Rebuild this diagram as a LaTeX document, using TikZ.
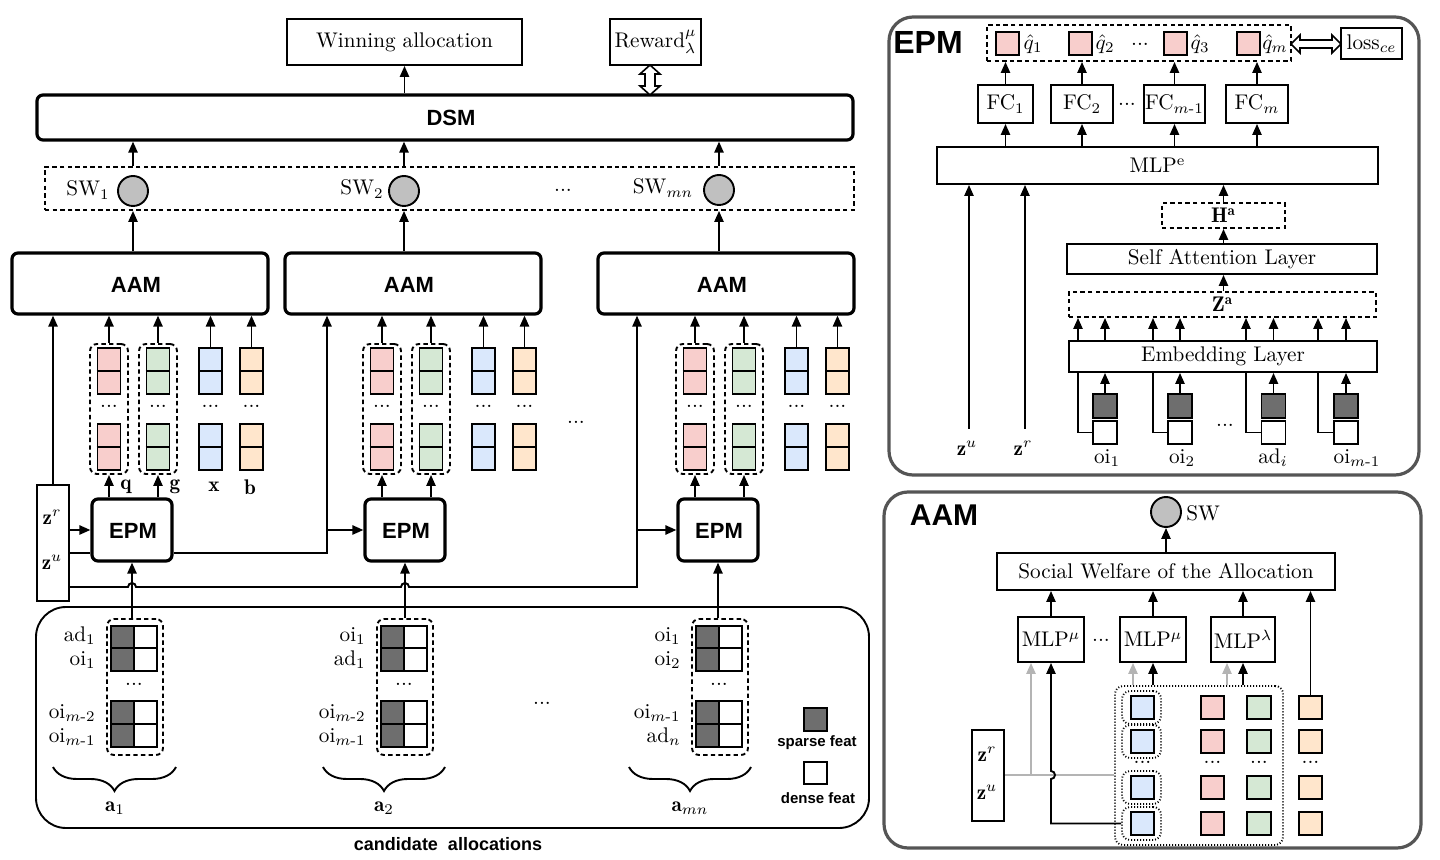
\RequirePackage{fix-cm}
\documentclass[tikz,border=0pt]{standalone}
\usepackage{amsmath}
\usepackage{fontspec}
\usetikzlibrary{arrows.meta,fit,decorations.pathreplacing,calc}
\newfontfamily\hv{Liberation Sans}
\definecolor{cpink}{HTML}{F8CECC}
\definecolor{cgreen}{HTML}{D5E8D4}
\definecolor{cblue}{HTML}{DAE8FC}
\definecolor{corange}{HTML}{FFE6CC}
\definecolor{csparse}{HTML}{6E6E6E}
\definecolor{ccirc}{HTML}{C0C0C0}
\definecolor{cpanel}{HTML}{555555}
\definecolor{cgl}{HTML}{B4B4B4}
\newcommand{\mkbox}[7][]{%
  \path (#3,#4) coordinate (#2-a) (#5,#6) coordinate (#2-b);%
  \node[fit=(#2-a)(#2-b), inner sep=0pt, #1] (#2) {};%
  \node (#2-t) at (#2.center) {#7};}
\newcommand{\mmone}{m\text{-}1}
\newcommand{\mmtwo}{m\text{-}2}
\tikzset{
  ln/.style={line width=0.95pt},
  arr/.style={line width=0.95pt, -{Triangle[length=5.5pt,width=4.6pt]}},
  garr/.style={arr, color=cgl},
  bx/.style={draw, line width=0.95pt, fill=white},
  tbx/.style={draw, line width=1.6pt, rounded corners=3pt, fill=white},
  dbx/.style={draw, line width=0.95pt, dash pattern=on 2.2pt off 1.6pt},
  rdbx/.style={dbx, rounded corners=3.5pt},
  dotbx/.style={draw, line width=0.95pt, dash pattern=on 0.5pt off 1pt, rounded corners=4pt},
  circ/.style={circle, draw, line width=0.95pt, fill=ccirc, minimum size=15pt},
  bsans/.style={font=\hv\bfseries\fontsize{11}{13}\selectfont},
  lsans/.style={font=\hv\bfseries\fontsize{7.5}{9}\selectfont},
  panel/.style={draw=cpanel, line width=1.6pt, rounded corners=12pt},
}
% colour column: name, centre x, colour
\newcommand{\colbar}[3]{%
  \mkbox[bx, fill=#3]{u#1}{#2-11.5}{348}{#2+11.5}{394}{}
  \draw[ln] (u#1.west) -- (u#1.east);
  \mkbox[bx, fill=#3]{w#1}{#2-11.5}{424}{#2+11.5}{470}{}
  \draw[ln] (w#1.west) -- (w#1.east);
  \node at (#2,406) {...};}
% candidate group: idx, gx, four labels, brace left, brace right
\newcommand{\cgrp}[8]{%
  \mkbox[rdbx]{cg#1}{#2-27}{619}{#2+29}{755}{}
  \foreach \yy in {626,648,701,724} {
    \draw[ln, fill=csparse] (#2-23,\yy) rectangle (#2,\yy+23);
    \draw[ln, fill=white] (#2,\yy) rectangle (#2+23,\yy+23);
  }
  \node at (#2,684) {...};
  \node[anchor=east] at (#2-38,636) {#3};
  \node[anchor=east] at (#2-38,660) {#4};
  \node[anchor=east] at (#2-38,713) {#5};
  \node[anchor=east] at (#2-38,737) {#6};
  \draw[ln, decorate, decoration={brace, amplitude=12pt}] (#8,767) -- (#7,767);}
\begin{document}
\begin{tikzpicture}[x=0.5pt, y=-0.5pt,
  every node/.style={inner sep=0pt, font=\fontsize{10.6}{12.5}\selectfont}]
\fill[white] (0,0) rectangle (1440,860);
\useasboundingbox (0,0) rectangle (1440,860);

% ---------------- top ----------------
\mkbox[bx]{win}{287}{19}{522}{65}{Winning allocation}
\mkbox[bx]{rew}{610}{19}{701}{65}{Reward$^{\mu}_{\lambda}$}
\mkbox[tbx]{dsm}{37}{95}{853}{140}{}
\node[bsans] (dsml) at (451,118) {DSM};
\draw[arr] (dsm.north -| win) -- (win.south);
\draw[line width=0.8pt, fill=white] (650,65) -- (660,74) -- (655,74) -- (655,86) -- (660,86)
  -- (650,95) -- (640,86) -- (645,86) -- (645,74) -- (640,74) -- cycle;

\mkbox[dbx]{swbox}{45}{167}{854}{210}{}
\node[circ] (sw1) at (133,191) {};
\node[circ] (sw2) at (404,191) {};
\node[circ] (sw3) at (719,190) {};
\node (sw1l) at (88,190) {SW$_1$};
\node (sw2l) at (362,189) {SW$_2$};
\node (swdots) at (563,190) {...};
\node (sw3l) at (663,188) {SW$_{mn}$};
\foreach \k in {1,2,3} {\draw[arr] (swbox.north -| sw\k) -- (dsm.south -| sw\k);}

% ---------------- AAM / EPM columns ----------------
\foreach \dx/\gi in {0/1,273/2,586/3} {
  \mkbox[tbx]{aam\gi}{12+\dx}{253}{268+\dx}{314}{}
  \node[bsans] at (136+\dx,285) {AAM};
  \draw[arr] (aam\gi.north -| sw\gi) -- (swbox.south -| sw\gi);
  \mkbox[rdbx]{pg\gi}{90+\dx}{344}{128+\dx}{474}{}
  \mkbox[rdbx]{gg\gi}{139+\dx}{344}{177+\dx}{474}{}
  \colbar{pk\gi}{109+\dx}{cpink}
  \colbar{gr\gi}{158+\dx}{cgreen}
  \colbar{bl\gi}{210.5+\dx}{cblue}
  \colbar{or\gi}{251.5+\dx}{corange}
  \draw[arr] (pg\gi.north) -- (aam\gi.south -| pg\gi.north);
  \draw[arr] (gg\gi.north) -- (aam\gi.south -| gg\gi.north);
  \draw[arr] (ubl\gi.north) -- (aam\gi.south -| ubl\gi.north);
  \draw[arr] (uor\gi.north) -- (aam\gi.south -| uor\gi.north);
  \mkbox[tbx]{epm\gi}{92+\dx}{499}{172+\dx}{561}{}
  \node[bsans] at (133+\dx,531) {EPM};
  \draw[arr] (epm\gi.north -| pg\gi) -- (pg\gi.south);
  \draw[arr] (epm\gi.north -| gg\gi) -- (gg\gi.south);
}
\node at (126,487) {$\mathbf{q}$};
\node at (175,487) {$\mathbf{g}$};
\node at (214,487) {$\mathbf{x}$};
\node at (250,487) {$\mathbf{b}$};
\node at (576,422) {...};

% z box and its lines
\mkbox[bx]{zb}{37}{485}{69}{601}{}
\node at (52,517) {$\mathbf{z}^{r}$};
\node at (52,562) {$\mathbf{z}^{u}$};
\coordinate (la) at (327,553);
\coordinate (lb) at (637,587);
\draw[arr] (zb.north) -- (aam1.south -| zb.north);
\draw[arr] (zb.east |- epm1) -- (epm1.west);
\draw[ln] (zb.east |- la) -- (epm1.west |- la);
\draw[arr] (epm1.east |- la) -- (la) -- (aam2.south -| la);
\draw[arr] (la |- epm2) -- (epm2.west);
\draw[arr] (zb.east |- lb) -- (128,587) arc[start angle=180, end angle=0, radius=2pt]
  -- (401,587) arc[start angle=180, end angle=0, radius=2pt] -- (lb) -- (aam3.south -| lb);
\draw[arr] (lb |- epm3) -- (epm3.west);

% ---------------- candidate allocations ----------------
\mkbox[draw, ln, rounded corners=15pt]{cand}{36}{607}{869}{828}{}
\node[font=\hv\bfseries\fontsize{9}{11}\selectfont] (candl) at (448,844) {candidate\ \ allocations};
\cgrp{1}{134}{ad$_1$}{oi$_1$}{oi$_{\mmtwo}$}{oi$_{\mmone}$}{53}{176}
\cgrp{2}{404}{oi$_1$}{ad$_1$}{oi$_{\mmtwo}$}{oi$_{\mmone}$}{323}{445}
\cgrp{3}{719}{oi$_1$}{oi$_2$}{oi$_{\mmone}$}{ad$_n$}{629}{751}
\node at (115,808) {$\mathbf{a}_1$};
\node at (384,808) {$\mathbf{a}_2$};
\node at (690,808) {$\mathbf{a}_{mn}$};
\node at (542,703) {...};
\foreach \gi in {1,2,3} {\draw[arr] (epm\gi.south |- cg\gi.north) -- (epm\gi.south);}
\mkbox[bx, fill=csparse]{lsp}{804}{708}{827}{731}{}
\node[lsans] at (817,743) {sparse feat};
\mkbox[bx]{lde}{804}{762}{827}{784}{}
\node[lsans] at (818,798) {dense feat};

% ---------------- EPM panel ----------------
\mkbox[panel]{epmp}{889}{17}{1419}{475}{}
\node[font=\hv\bfseries\fontsize{16}{18}\selectfont] at (928,42) {EPM};
\mkbox[dbx]{qbox}{987}{25}{1291}{61}{}
\mkbox[bx, fill=cpink]{qs1}{996}{32}{1019}{55}{}
\mkbox[bx, fill=cpink]{qs2}{1069}{32}{1092}{55}{}
\mkbox[bx, fill=cpink]{qs3}{1164}{32}{1187}{55}{}
\mkbox[bx, fill=cpink]{qs4}{1237}{32}{1260}{55}{}
\node at (1033,44) {$\hat{q}_1$};
\node at (1105,44) {$\hat{q}_2$};
\node at (1140,44) {...};
\node at (1200,44) {$\hat{q}_3$};
\node at (1275,44) {$\hat{q}_m$};
\mkbox[bx]{loss}{1341}{28}{1402}{59}{loss$_{ce}$}
\draw[line width=0.8pt, fill=white] (1291,44) -- (1300,35) -- (1300,40) -- (1332,40) -- (1332,35)
  -- (1341,44) -- (1332,53) -- (1332,48) -- (1300,48) -- (1300,53) -- cycle;
\mkbox[bx]{fc1}{978}{85}{1033}{123}{FC$_1$}
\mkbox[bx]{fc2}{1051}{85}{1113}{123}{FC$_2$}
\mkbox[bx]{fc3}{1144}{85}{1205}{123}{FC$_{\mmone}$}
\mkbox[bx]{fc4}{1226}{85}{1288}{123}{FC$_m$}
\node at (1127,104) {...};
\mkbox[bx]{mlpe}{937}{147}{1378}{184}{MLP$^{\mathrm{e}}$}
\foreach \k in {1,2,3,4} {
  \draw[arr] (fc\k.north) -- (qbox.south -| fc\k.north);
  \draw[arr] (mlpe.north -| fc\k) -- (fc\k.south);
}
\coordinate (zue) at (969,429);
\coordinate (zre) at (1025,429);
\draw[arr] (zue) -- (mlpe.south -| zue);
\draw[arr] (zre) -- (mlpe.south -| zre);
\node at (967,448) {$\mathbf{z}^{u}$};
\node at (1023,448) {$\mathbf{z}^{r}$};
\mkbox[dbx]{ha}{1162}{203}{1285}{228}{$\mathbf{H}^{\mathbf{a}}$}
\mkbox[bx]{sa}{1067}{244}{1377}{274}{Self Attention Layer}
\mkbox[dbx]{za}{1069}{292}{1376}{317}{$\mathbf{Z}^{\mathbf{a}}$}
\mkbox[bx]{emb}{1069}{341}{1377}{372}{Embedding Layer}
\draw[arr] (ha.north) -- (mlpe.south -| ha.north);
\draw[arr] (sa.north -| ha) -- (ha.south);
\draw[arr] (za.north -| ha) -- (sa.south -| ha);
\foreach \cx/\lx/\tx/\lab/\k in {1105/1078/1107/oi$_1$/1, 1180/1153/1182/oi$_2$/2,
    1273.5/1246/1273/ad$_i$/3, 1346/1318/1357/oi$_{\mmone}$/4} {
  \mkbox[bx, fill=csparse]{es\k}{\cx-12}{394}{\cx+12}{418}{}
  \mkbox[bx]{ed\k}{\cx-12}{421}{\cx+12}{444}{}
  \coordinate (el\k) at (\lx,372);
  \draw[arr] (es\k.north) -- (emb.south -| es\k.north);
  \draw[ln] (ed\k.west) -| (emb.south -| el\k);
  \draw[arr] (emb.north -| el\k) -- (za.south -| el\k);
  \draw[arr] (emb.north -| es\k) -- (za.south -| es\k);
  \node at (\tx,458) {\lab};
}
\node at (1225,425) {...};

% ---------------- AAM panel ----------------
\mkbox[panel]{aamp}{884}{492}{1421}{848}{}
\node[font=\hv\bfseries\fontsize{15}{17}\selectfont] at (944,515) {AAM};
\node[circ] (swc) at (1166,512) {};
\node[anchor=west] (swcl) at (1186,513) {SW};
\mkbox[bx]{swa}{997}{553}{1335}{590}{Social Welfare of the Allocation}
\draw[arr] (swa.north -| swc) -- (swc.south);
\mkbox[bx]{m1}{1018}{617}{1084}{662}{MLP$^{\mu}$}
\mkbox[bx]{m2}{1120}{617}{1186}{662}{MLP$^{\mu}$}
\mkbox[bx]{m3}{1211}{617}{1275}{662}{MLP$^{\lambda}$}
\node at (1101,640) {...};
\foreach \k in {1,2,3} {\draw[arr] (m\k.north) -- (swa.south -| m\k.north);}
\foreach \ys/\r in {696/1,730/2,776/3,812/4} {
  \mkbox[dotbx]{bd\r}{1122}{\ys-5}{1161}{\ys+28}{}
  \mkbox[bx, fill=cblue]{ab\r}{1131}{\ys}{1154}{\ys+23}{}
  \mkbox[bx, fill=cpink]{ap\r}{1201}{\ys}{1224}{\ys+23}{}
  \mkbox[bx, fill=cgreen]{ag\r}{1247}{\ys}{1271}{\ys+23}{}
  \mkbox[bx, fill=corange]{ao\r}{1299}{\ys}{1322}{\ys+23}{}
}
\foreach \xx in {1142.5,1212.5,1259,1310.5} {\node at (\xx,762) {...};}
\mkbox[dotbx]{dg}{1115}{686}{1283}{845}{}
\draw[arr] (ao1.north) -- (swa.south -| ao1.north);
\mkbox[bx]{zba}{972}{730}{1004}{821}{}
\node at (987,754) {$\mathbf{z}^{r}$};
\node at (987,792) {$\mathbf{z}^{u}$};
\coordinate (gy) at (1000,775);
\coordinate (hopb) at (1000,779);
\coordinate (g1) at ([xshift=-10pt]m1.south);
\coordinate (g2) at ([xshift=-10pt]m2.south);
\coordinate (g3) at ([xshift=-8pt]m3.south);
\draw[ln, cgl] (zba.east |- gy) -- (dg.west |- gy);
\draw[garr] (g1 |- gy) -- (g1);
\draw[garr] (dg.north -| g2) -- (g2);
\draw[garr] (dg.north -| g3) -- (g3);
\draw[arr] (bd4.west) -- (m1.south |- bd4.west) -- (m1.south |- hopb)
  arc[start angle=-90, end angle=90, radius=2pt] -- (m1.south);
\draw[arr] (dg.north -| m2) -- (m2.south);
\draw[arr] (dg.north -| m3) -- (m3.south);
\end{tikzpicture}
\end{document}
